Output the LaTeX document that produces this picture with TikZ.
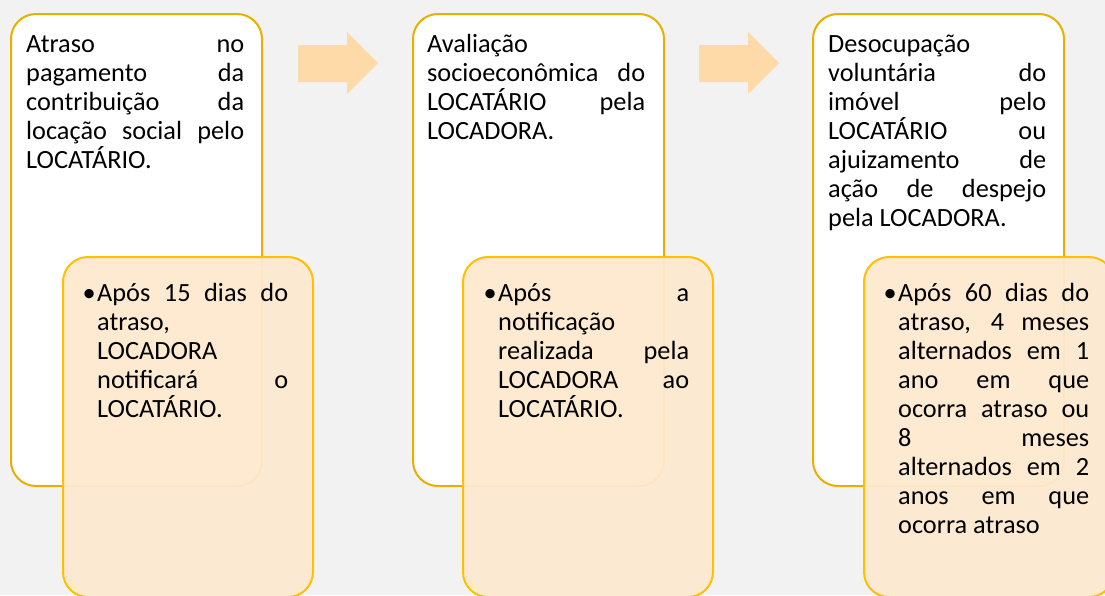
\documentclass[tikz,border=0pt]{standalone}
\usepackage{fontspec}
\setmainfont{Carlito}
\definecolor{bgc}{RGB}{242,242,242}
\definecolor{wborder}{RGB}{232,174,0}
\definecolor{oborder}{RGB}{255,192,0}
\definecolor{ofill}{RGB}{253,233,207}
\definecolor{arrowc}{RGB}{254,218,168}
\newcommand\jln[1]{\makebox[\linewidth][s]{#1}\\}
\newcommand\blt{\llap{•\kern1.5pt}}
\tikzset{
  wbox/.style={draw=wborder, fill=white, line width=2pt, rounded corners=25pt,
    minimum width=251pt, minimum height=472pt, anchor=north west, inner sep=0pt},
  obox/.style={draw=oborder, fill=ofill, fill opacity=0.94, line width=2pt, rounded corners=25pt,
    minimum width=250pt, minimum height=340pt, anchor=north west, inner sep=0pt},
  txt/.style={anchor=base west, inner sep=0pt, font=\fontsize{26.3}{29}\selectfont},
  flowarrow/.style={fill=arrowc}
}
\begin{document}
\begin{tikzpicture}[x=1pt, y=-1pt]
\useasboundingbox (0,0) rectangle (1105,595);
\fill[bgc] (0,0) rectangle (1105,595);
\clip (0,0) rectangle (1105,595);

% arrows
\fill[flowarrow] (298,45) -- (347,45) -- (347,32) -- (378,63) -- (347,94) -- (347,82) -- (298,82) -- cycle;
\fill[flowarrow] (699,45) -- (748,45) -- (748,32) -- (779,63) -- (748,94) -- (748,82) -- (699,82) -- cycle;

% white boxes
\node[wbox] (w1) at (10,13) {};
\node[wbox] (w2) at (412,13) {};
\node[wbox] (w3) at (812,13) {};

\node[txt] (t1) at (26,52) {\parbox[t]{218pt}{%
\jln{Atraso no}\jln{pagamento da}\jln{contribuição da}\jln{locação social pelo}LOCATÁRIO.}};
\node[txt] (t2) at (427,52) {\parbox[t]{218pt}{%
Avaliação\\\jln{socioeconômica do}\jln{LOCATÁRIO pela}LOCADORA.}};
\node[txt] (t3) at (828,52) {\parbox[t]{218pt}{%
Desocupação\\\jln{voluntária do}\jln{imóvel pelo}\jln{LOCATÁRIO ou}\jln{ajuizamento de}\jln{ação de despejo}pela LOCADORA.}};

% orange boxes
\node[obox] (o1) at (62,256) {};
\node[obox] (o2) at (462,256) {};
\node[obox] (o3) at (863,256) {};

\node[txt] (u1) at (97,301) {\parbox[t]{191pt}{%
\jln{\blt Após 15 dias do}atraso,\\LOCADORA\\\jln{notificará o}LOCATÁRIO.}};
\node[txt] (u2) at (498,301) {\parbox[t]{191pt}{%
\jln{\blt Após a}notificação\\\jln{realizada pela}\jln{LOCADORA ao}LOCATÁRIO.}};
\node[txt] (u3) at (898,301) {\parbox[t]{191pt}{%
\jln{\blt Após 60 dias do}\jln{atraso, 4 meses}\jln{alternados em 1}\jln{ano em que}\jln{ocorra atraso ou}\jln{8 meses}\jln{alternados em 2}\jln{anos em que}ocorra atraso}};
\end{tikzpicture}
\end{document}
